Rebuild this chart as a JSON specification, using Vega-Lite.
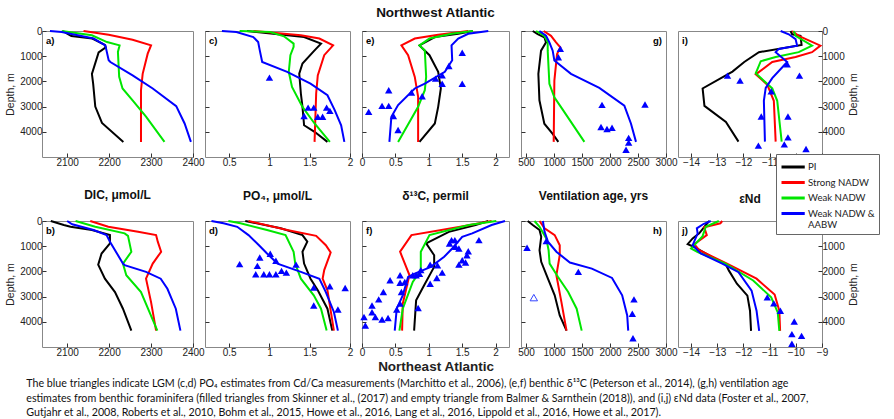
{
"$schema": "https://vega.github.io/schema/vega-lite/v6.json",
"padding": {"left": 5, "top": 5, "right": 5, "bottom": 5},
"datasets": {
"lines": [
{"p":"a","s":"PI","d":0,"v":2090},{"p":"a","s":"PI","d":100,"v":2100},{"p":"a","s":"PI","d":200,"v":2110},{"p":"a","s":"PI","d":300,"v":2160},{"p":"a","s":"PI","d":550,"v":2190},{"p":"a","s":"PI","d":650,"v":2192},{"p":"a","s":"PI","d":850,"v":2175},{"p":"a","s":"PI","d":1700,"v":2159},{"p":"a","s":"PI","d":2100,"v":2162},{"p":"a","s":"PI","d":3000,"v":2167},{"p":"a","s":"PI","d":3650,"v":2183},{"p":"a","s":"PI","d":4400,"v":2234},
{"p":"a","s":"Strong NADW","d":0,"v":2139},{"p":"a","s":"Strong NADW","d":150,"v":2199},{"p":"a","s":"Strong NADW","d":350,"v":2256},{"p":"a","s":"Strong NADW","d":570,"v":2300},{"p":"a","s":"Strong NADW","d":900,"v":2292},{"p":"a","s":"Strong NADW","d":1700,"v":2280},{"p":"a","s":"Strong NADW","d":2350,"v":2276},{"p":"a","s":"Strong NADW","d":4400,"v":2276},
{"p":"a","s":"Weak NADW","d":0,"v":2087},{"p":"a","s":"Weak NADW","d":170,"v":2159},{"p":"a","s":"Weak NADW","d":440,"v":2195},{"p":"a","s":"Weak NADW","d":570,"v":2225},{"p":"a","s":"Weak NADW","d":830,"v":2221},{"p":"a","s":"Weak NADW","d":1820,"v":2224},{"p":"a","s":"Weak NADW","d":2280,"v":2232},{"p":"a","s":"Weak NADW","d":2750,"v":2256},{"p":"a","s":"Weak NADW","d":3400,"v":2288},{"p":"a","s":"Weak NADW","d":4400,"v":2332},
{"p":"a","s":"Weak NADW & AABW","d":0,"v":2059},{"p":"a","s":"Weak NADW & AABW","d":40,"v":2087},{"p":"a","s":"Weak NADW & AABW","d":300,"v":2163},{"p":"a","s":"Weak NADW & AABW","d":570,"v":2191},{"p":"a","s":"Weak NADW & AABW","d":1160,"v":2199},{"p":"a","s":"Weak NADW & AABW","d":1230,"v":2203},{"p":"a","s":"Weak NADW & AABW","d":1760,"v":2256},{"p":"a","s":"Weak NADW & AABW","d":2280,"v":2304},{"p":"a","s":"Weak NADW & AABW","d":2980,"v":2360},{"p":"a","s":"Weak NADW & AABW","d":3670,"v":2380},{"p":"a","s":"Weak NADW & AABW","d":4400,"v":2395},

{"p":"c","s":"PI","d":0,"v":0.72},{"p":"c","s":"PI","d":240,"v":1.43},{"p":"c","s":"PI","d":500,"v":1.64},{"p":"c","s":"PI","d":770,"v":1.56},{"p":"c","s":"PI","d":1290,"v":1.41},{"p":"c","s":"PI","d":1690,"v":1.37},{"p":"c","s":"PI","d":2480,"v":1.39},{"p":"c","s":"PI","d":3010,"v":1.41},{"p":"c","s":"PI","d":3740,"v":1.43},{"p":"c","s":"PI","d":4000,"v":1.56},{"p":"c","s":"PI","d":4400,"v":1.72},
{"p":"c","s":"Strong NADW","d":0,"v":0.80},{"p":"c","s":"Strong NADW","d":170,"v":1.39},{"p":"c","s":"Strong NADW","d":300,"v":1.62},{"p":"c","s":"Strong NADW","d":570,"v":1.79},{"p":"c","s":"Strong NADW","d":960,"v":1.68},{"p":"c","s":"Strong NADW","d":1760,"v":1.60},{"p":"c","s":"Strong NADW","d":2480,"v":1.58},{"p":"c","s":"Strong NADW","d":4400,"v":1.56},
{"p":"c","s":"Weak NADW","d":0,"v":0.63},{"p":"c","s":"Weak NADW","d":40,"v":1.01},{"p":"c","s":"Weak NADW","d":210,"v":1.18},{"p":"c","s":"Weak NADW","d":500,"v":1.30},{"p":"c","s":"Weak NADW","d":630,"v":1.30},{"p":"c","s":"Weak NADW","d":960,"v":1.26},{"p":"c","s":"Weak NADW","d":1620,"v":1.24},{"p":"c","s":"Weak NADW","d":2220,"v":1.28},{"p":"c","s":"Weak NADW","d":3010,"v":1.41},{"p":"c","s":"Weak NADW","d":3670,"v":1.56},{"p":"c","s":"Weak NADW","d":4400,"v":1.75},
{"p":"c","s":"Weak NADW & AABW","d":0,"v":0.41},{"p":"c","s":"Weak NADW & AABW","d":40,"v":0.59},{"p":"c","s":"Weak NADW & AABW","d":240,"v":0.80},{"p":"c","s":"Weak NADW & AABW","d":440,"v":0.86},{"p":"c","s":"Weak NADW & AABW","d":770,"v":0.88},{"p":"c","s":"Weak NADW & AABW","d":1230,"v":0.91},{"p":"c","s":"Weak NADW & AABW","d":1620,"v":1.22},{"p":"c","s":"Weak NADW & AABW","d":2090,"v":1.51},{"p":"c","s":"Weak NADW & AABW","d":2550,"v":1.72},{"p":"c","s":"Weak NADW & AABW","d":3140,"v":1.81},{"p":"c","s":"Weak NADW & AABW","d":3740,"v":1.89},{"p":"c","s":"Weak NADW & AABW","d":4400,"v":1.93},

{"p":"e","s":"PI","d":0,"v":1.66},{"p":"e","s":"PI","d":110,"v":1.44},{"p":"e","s":"PI","d":240,"v":1.09},{"p":"e","s":"PI","d":570,"v":0.86},{"p":"e","s":"PI","d":960,"v":1.01},{"p":"e","s":"PI","d":1620,"v":1.14},{"p":"e","s":"PI","d":2280,"v":1.18},{"p":"e","s":"PI","d":3010,"v":1.14},{"p":"e","s":"PI","d":3670,"v":1.09},{"p":"e","s":"PI","d":4400,"v":0.86},
{"p":"e","s":"Strong NADW","d":0,"v":1.59},{"p":"e","s":"Strong NADW","d":150,"v":1.14},{"p":"e","s":"Strong NADW","d":300,"v":0.79},{"p":"e","s":"Strong NADW","d":570,"v":0.59},{"p":"e","s":"Strong NADW","d":960,"v":0.69},{"p":"e","s":"Strong NADW","d":1820,"v":0.79},{"p":"e","s":"Strong NADW","d":2610,"v":0.84},{"p":"e","s":"Strong NADW","d":4400,"v":0.84},
{"p":"e","s":"Weak NADW","d":0,"v":1.66},{"p":"e","s":"Weak NADW","d":110,"v":1.34},{"p":"e","s":"Weak NADW","d":300,"v":1.01},{"p":"e","s":"Weak NADW","d":570,"v":0.86},{"p":"e","s":"Weak NADW","d":770,"v":0.94},{"p":"e","s":"Weak NADW","d":1820,"v":0.96},{"p":"e","s":"Weak NADW","d":2350,"v":0.94},{"p":"e","s":"Weak NADW","d":3010,"v":0.84},{"p":"e","s":"Weak NADW","d":4400,"v":0.54},
{"p":"e","s":"Weak NADW & AABW","d":0,"v":1.89},{"p":"e","s":"Weak NADW & AABW","d":110,"v":1.59},{"p":"e","s":"Weak NADW & AABW","d":300,"v":1.44},{"p":"e","s":"Weak NADW & AABW","d":570,"v":1.34},{"p":"e","s":"Weak NADW & AABW","d":1160,"v":1.35},{"p":"e","s":"Weak NADW & AABW","d":1620,"v":1.24},{"p":"e","s":"Weak NADW & AABW","d":2090,"v":0.94},{"p":"e","s":"Weak NADW & AABW","d":2280,"v":0.79},{"p":"e","s":"Weak NADW & AABW","d":2940,"v":0.54},{"p":"e","s":"Weak NADW & AABW","d":3400,"v":0.44},{"p":"e","s":"Weak NADW & AABW","d":4400,"v":0.41},

{"p":"g","s":"PI","d":0,"v":619},{"p":"g","s":"PI","d":120,"v":708},{"p":"g","s":"PI","d":250,"v":827},{"p":"g","s":"PI","d":450,"v":857},{"p":"g","s":"PI","d":780,"v":768},{"p":"g","s":"PI","d":1700,"v":720},{"p":"g","s":"PI","d":2750,"v":739},{"p":"g","s":"PI","d":3680,"v":827},{"p":"g","s":"PI","d":4080,"v":976},{"p":"g","s":"PI","d":4400,"v":1077},
{"p":"g","s":"Strong NADW","d":0,"v":815},{"p":"g","s":"Strong NADW","d":190,"v":946},{"p":"g","s":"Strong NADW","d":450,"v":1036},{"p":"g","s":"Strong NADW","d":650,"v":1113},{"p":"g","s":"Strong NADW","d":910,"v":1054},{"p":"g","s":"Strong NADW","d":1970,"v":1006},{"p":"g","s":"Strong NADW","d":4400,"v":994},
{"p":"g","s":"Weak NADW","d":0,"v":679},{"p":"g","s":"Weak NADW","d":190,"v":827},{"p":"g","s":"Weak NADW","d":450,"v":887},{"p":"g","s":"Weak NADW","d":780,"v":887},{"p":"g","s":"Weak NADW","d":2100,"v":917},{"p":"g","s":"Weak NADW","d":2630,"v":1006},{"p":"g","s":"Weak NADW","d":3020,"v":1125},{"p":"g","s":"Weak NADW","d":4400,"v":1542},
{"p":"g","s":"Weak NADW & AABW","d":0,"v":738},{"p":"g","s":"Weak NADW & AABW","d":190,"v":857},{"p":"g","s":"Weak NADW & AABW","d":450,"v":917},{"p":"g","s":"Weak NADW & AABW","d":780,"v":976},{"p":"g","s":"Weak NADW & AABW","d":1170,"v":1006},{"p":"g","s":"Weak NADW & AABW","d":1700,"v":1303},{"p":"g","s":"Weak NADW & AABW","d":2260,"v":1809},{"p":"g","s":"Weak NADW & AABW","d":2960,"v":2256},{"p":"g","s":"Weak NADW & AABW","d":3680,"v":2375},{"p":"g","s":"Weak NADW & AABW","d":4400,"v":2464},

{"p":"i","s":"PI","d":0,"v":-10.20},{"p":"i","s":"PI","d":130,"v":-10.14},{"p":"i","s":"PI","d":190,"v":-9.82},{"p":"i","s":"PI","d":555,"v":-9.78},{"p":"i","s":"PI","d":840,"v":-11.41},{"p":"i","s":"PI","d":1230,"v":-11.97},{"p":"i","s":"PI","d":1610,"v":-12.42},{"p":"i","s":"PI","d":2280,"v":-13.56},{"p":"i","s":"PI","d":2970,"v":-13.49},{"p":"i","s":"PI","d":3610,"v":-12.67},{"p":"i","s":"PI","d":4390,"v":-12.19},
{"p":"i","s":"Strong NADW","d":0,"v":-10.14},{"p":"i","s":"Strong NADW","d":190,"v":-9.89},{"p":"i","s":"Strong NADW","d":580,"v":-9.06},{"p":"i","s":"Strong NADW","d":840,"v":-9.38},{"p":"i","s":"Strong NADW","d":1030,"v":-10.01},{"p":"i","s":"Strong NADW","d":1230,"v":-10.90},{"p":"i","s":"Strong NADW","d":1720,"v":-11.53},{"p":"i","s":"Strong NADW","d":2130,"v":-11.09},{"p":"i","s":"Strong NADW","d":2770,"v":-10.84},{"p":"i","s":"Strong NADW","d":4390,"v":-10.77},
{"p":"i","s":"Weak NADW","d":0,"v":-10.08},{"p":"i","s":"Weak NADW","d":190,"v":-10.01},{"p":"i","s":"Weak NADW","d":580,"v":-9.38},{"p":"i","s":"Weak NADW","d":840,"v":-9.89},{"p":"i","s":"Weak NADW","d":1030,"v":-10.77},{"p":"i","s":"Weak NADW","d":1200,"v":-11.34},{"p":"i","s":"Weak NADW","d":1680,"v":-11.53},{"p":"i","s":"Weak NADW","d":2280,"v":-10.90},{"p":"i","s":"Weak NADW","d":2770,"v":-10.71},{"p":"i","s":"Weak NADW","d":4390,"v":-10.54},
{"p":"i","s":"Weak NADW & AABW","d":0,"v":-10.58},{"p":"i","s":"Weak NADW & AABW","d":130,"v":-10.27},{"p":"i","s":"Weak NADW & AABW","d":320,"v":-10.01},{"p":"i","s":"Weak NADW & AABW","d":580,"v":-9.95},{"p":"i","s":"Weak NADW & AABW","d":710,"v":-10.65},{"p":"i","s":"Weak NADW & AABW","d":840,"v":-10.77},{"p":"i","s":"Weak NADW & AABW","d":1230,"v":-10.33},{"p":"i","s":"Weak NADW & AABW","d":1870,"v":-10.90},{"p":"i","s":"Weak NADW & AABW","d":2260,"v":-11.15},{"p":"i","s":"Weak NADW & AABW","d":2770,"v":-11.22},{"p":"i","s":"Weak NADW & AABW","d":4390,"v":-11.18},

{"p":"b","s":"PI","d":0,"v":2061},{"p":"b","s":"PI","d":160,"v":2092},{"p":"b","s":"PI","d":230,"v":2108},{"p":"b","s":"PI","d":360,"v":2159},{"p":"b","s":"PI","d":560,"v":2202},{"p":"b","s":"PI","d":890,"v":2202},{"p":"b","s":"PI","d":1290,"v":2182},{"p":"b","s":"PI","d":1730,"v":2174},{"p":"b","s":"PI","d":2290,"v":2190},{"p":"b","s":"PI","d":2820,"v":2214},{"p":"b","s":"PI","d":3480,"v":2233},{"p":"b","s":"PI","d":4350,"v":2253},
{"p":"b","s":"Strong NADW","d":0,"v":2155},{"p":"b","s":"Strong NADW","d":230,"v":2198},{"p":"b","s":"Strong NADW","d":430,"v":2269},{"p":"b","s":"Strong NADW","d":560,"v":2312},{"p":"b","s":"Strong NADW","d":820,"v":2316},{"p":"b","s":"Strong NADW","d":1220,"v":2324},{"p":"b","s":"Strong NADW","d":1690,"v":2304},{"p":"b","s":"Strong NADW","d":2290,"v":2288},{"p":"b","s":"Strong NADW","d":3220,"v":2300},{"p":"b","s":"Strong NADW","d":4350,"v":2312},
{"p":"b","s":"Weak NADW","d":0,"v":2120},{"p":"b","s":"Weak NADW","d":230,"v":2167},{"p":"b","s":"Weak NADW","d":490,"v":2237},{"p":"b","s":"Weak NADW","d":590,"v":2245},{"p":"b","s":"Weak NADW","d":1220,"v":2253},{"p":"b","s":"Weak NADW","d":1690,"v":2233},{"p":"b","s":"Weak NADW","d":2150,"v":2241},{"p":"b","s":"Weak NADW","d":2820,"v":2276},{"p":"b","s":"Weak NADW","d":4350,"v":2315},
{"p":"b","s":"Weak NADW & AABW","d":0,"v":2100},{"p":"b","s":"Weak NADW & AABW","d":130,"v":2112},{"p":"b","s":"Weak NADW & AABW","d":360,"v":2163},{"p":"b","s":"Weak NADW & AABW","d":560,"v":2194},{"p":"b","s":"Weak NADW & AABW","d":820,"v":2202},{"p":"b","s":"Weak NADW & AABW","d":1690,"v":2233},{"p":"b","s":"Weak NADW & AABW","d":1750,"v":2237},{"p":"b","s":"Weak NADW & AABW","d":2020,"v":2288},{"p":"b","s":"Weak NADW & AABW","d":2290,"v":2323},{"p":"b","s":"Weak NADW & AABW","d":2690,"v":2339},{"p":"b","s":"Weak NADW & AABW","d":3480,"v":2359},{"p":"b","s":"Weak NADW & AABW","d":4350,"v":2370},

{"p":"d","s":"PI","d":0,"v":0.70},{"p":"d","s":"PI","d":290,"v":1.14},{"p":"d","s":"PI","d":560,"v":1.41},{"p":"d","s":"PI","d":820,"v":1.47},{"p":"d","s":"PI","d":1220,"v":1.41},{"p":"d","s":"PI","d":1690,"v":1.43},{"p":"d","s":"PI","d":2290,"v":1.51},{"p":"d","s":"PI","d":2750,"v":1.60},{"p":"d","s":"PI","d":3480,"v":1.72},{"p":"d","s":"PI","d":4350,"v":1.78},
{"p":"d","s":"Strong NADW","d":0,"v":0.74},{"p":"d","s":"Strong NADW","d":360,"v":1.22},{"p":"d","s":"Strong NADW","d":590,"v":1.58},{"p":"d","s":"Strong NADW","d":960,"v":1.70},{"p":"d","s":"Strong NADW","d":1250,"v":1.76},{"p":"d","s":"Strong NADW","d":1950,"v":1.68},{"p":"d","s":"Strong NADW","d":2290,"v":1.66},{"p":"d","s":"Strong NADW","d":2750,"v":1.72},{"p":"d","s":"Strong NADW","d":4350,"v":1.80},
{"p":"d","s":"Weak NADW","d":0,"v":0.49},{"p":"d","s":"Weak NADW","d":90,"v":0.64},{"p":"d","s":"Weak NADW","d":360,"v":0.97},{"p":"d","s":"Weak NADW","d":560,"v":1.20},{"p":"d","s":"Weak NADW","d":1220,"v":1.30},{"p":"d","s":"Weak NADW","d":1690,"v":1.32},{"p":"d","s":"Weak NADW","d":2290,"v":1.39},{"p":"d","s":"Weak NADW","d":2950,"v":1.55},{"p":"d","s":"Weak NADW","d":3480,"v":1.64},{"p":"d","s":"Weak NADW","d":4350,"v":1.71},
{"p":"d","s":"Weak NADW & AABW","d":0,"v":0.28},{"p":"d","s":"Weak NADW & AABW","d":90,"v":0.43},{"p":"d","s":"Weak NADW & AABW","d":230,"v":0.60},{"p":"d","s":"Weak NADW & AABW","d":560,"v":0.74},{"p":"d","s":"Weak NADW & AABW","d":960,"v":0.87},{"p":"d","s":"Weak NADW & AABW","d":1290,"v":0.97},{"p":"d","s":"Weak NADW & AABW","d":1690,"v":1.10},{"p":"d","s":"Weak NADW & AABW","d":2020,"v":1.39},{"p":"d","s":"Weak NADW & AABW","d":2290,"v":1.62},{"p":"d","s":"Weak NADW & AABW","d":2820,"v":1.70},{"p":"d","s":"Weak NADW & AABW","d":3610,"v":1.80},{"p":"d","s":"Weak NADW & AABW","d":4350,"v":1.85},

{"p":"f","s":"PI","d":0,"v":1.89},{"p":"f","s":"PI","d":160,"v":1.70},{"p":"f","s":"PI","d":430,"v":1.30},{"p":"f","s":"PI","d":890,"v":0.96},{"p":"f","s":"PI","d":1360,"v":1.08},{"p":"f","s":"PI","d":1820,"v":1.08},{"p":"f","s":"PI","d":2550,"v":0.93},{"p":"f","s":"PI","d":3150,"v":0.81},{"p":"f","s":"PI","d":4350,"v":0.78},
{"p":"f","s":"Strong NADW","d":0,"v":1.94},{"p":"f","s":"Strong NADW","d":230,"v":1.47},{"p":"f","s":"Strong NADW","d":560,"v":0.74},{"p":"f","s":"Strong NADW","d":1220,"v":0.57},{"p":"f","s":"Strong NADW","d":2150,"v":0.71},{"p":"f","s":"Strong NADW","d":3280,"v":0.61},{"p":"f","s":"Strong NADW","d":4350,"v":0.60},
{"p":"f","s":"Weak NADW","d":0,"v":2.01},{"p":"f","s":"Weak NADW","d":160,"v":1.60},{"p":"f","s":"Weak NADW","d":560,"v":1.01},{"p":"f","s":"Weak NADW","d":1220,"v":0.88},{"p":"f","s":"Weak NADW","d":1950,"v":0.88},{"p":"f","s":"Weak NADW","d":2420,"v":0.76},{"p":"f","s":"Weak NADW","d":3480,"v":0.61},{"p":"f","s":"Weak NADW","d":4350,"v":0.56},
{"p":"f","s":"Weak NADW & AABW","d":0,"v":2.14},{"p":"f","s":"Weak NADW & AABW","d":160,"v":1.94},{"p":"f","s":"Weak NADW & AABW","d":490,"v":1.65},{"p":"f","s":"Weak NADW & AABW","d":630,"v":1.50},{"p":"f","s":"Weak NADW & AABW","d":1090,"v":1.35},{"p":"f","s":"Weak NADW & AABW","d":1420,"v":1.23},{"p":"f","s":"Weak NADW & AABW","d":1820,"v":1.03},{"p":"f","s":"Weak NADW & AABW","d":2090,"v":0.79},{"p":"f","s":"Weak NADW & AABW","d":2220,"v":0.69},{"p":"f","s":"Weak NADW & AABW","d":2950,"v":0.61},{"p":"f","s":"Weak NADW & AABW","d":3480,"v":0.52},{"p":"f","s":"Weak NADW & AABW","d":4350,"v":0.49},

{"p":"h","s":"PI","d":0,"v":530},{"p":"h","s":"PI","d":160,"v":620},{"p":"h","s":"PI","d":360,"v":741},{"p":"h","s":"PI","d":630,"v":771},{"p":"h","s":"PI","d":1160,"v":741},{"p":"h","s":"PI","d":1620,"v":771},{"p":"h","s":"PI","d":2290,"v":891},{"p":"h","s":"PI","d":2950,"v":1012},{"p":"h","s":"PI","d":3750,"v":1102},{"p":"h","s":"PI","d":4350,"v":1223},
{"p":"h","s":"Strong NADW","d":0,"v":741},{"p":"h","s":"Strong NADW","d":290,"v":831},{"p":"h","s":"Strong NADW","d":560,"v":1012},{"p":"h","s":"Strong NADW","d":960,"v":1102},{"p":"h","s":"Strong NADW","d":1360,"v":1102},{"p":"h","s":"Strong NADW","d":2150,"v":1042},{"p":"h","s":"Strong NADW","d":3220,"v":1132},{"p":"h","s":"Strong NADW","d":4350,"v":1223},
{"p":"h","s":"Weak NADW","d":0,"v":651},{"p":"h","s":"Weak NADW","d":230,"v":741},{"p":"h","s":"Weak NADW","d":690,"v":861},{"p":"h","s":"Weak NADW","d":1160,"v":903},{"p":"h","s":"Weak NADW","d":1690,"v":921},{"p":"h","s":"Weak NADW","d":2220,"v":1072},{"p":"h","s":"Weak NADW","d":2820,"v":1253},{"p":"h","s":"Weak NADW","d":3480,"v":1404},{"p":"h","s":"Weak NADW","d":4350,"v":1494},
{"p":"h","s":"Weak NADW & AABW","d":0,"v":801},{"p":"h","s":"Weak NADW & AABW","d":430,"v":831},{"p":"h","s":"Weak NADW & AABW","d":820,"v":891},{"p":"h","s":"Weak NADW & AABW","d":1220,"v":1042},{"p":"h","s":"Weak NADW & AABW","d":1650,"v":1283},{"p":"h","s":"Weak NADW & AABW","d":1890,"v":1675},{"p":"h","s":"Weak NADW & AABW","d":2260,"v":2036},{"p":"h","s":"Weak NADW & AABW","d":2950,"v":2217},{"p":"h","s":"Weak NADW & AABW","d":3750,"v":2307},{"p":"h","s":"Weak NADW & AABW","d":4350,"v":2325},

{"p":"j","s":"PI","d":0,"v":-13.31},{"p":"j","s":"PI","d":160,"v":-13.44},{"p":"j","s":"PI","d":490,"v":-13.69},{"p":"j","s":"PI","d":690,"v":-13.94},{"p":"j","s":"PI","d":920,"v":-14.13},{"p":"j","s":"PI","d":1030,"v":-13.88},{"p":"j","s":"PI","d":1400,"v":-13.25},{"p":"j","s":"PI","d":1690,"v":-12.69},{"p":"j","s":"PI","d":1960,"v":-12.56},{"p":"j","s":"PI","d":2490,"v":-12.25},{"p":"j","s":"PI","d":2960,"v":-11.85},{"p":"j","s":"PI","d":3560,"v":-11.75},{"p":"j","s":"PI","d":4360,"v":-11.71},
{"p":"j","s":"Strong NADW","d":0,"v":-12.81},{"p":"j","s":"Strong NADW","d":90,"v":-12.88},{"p":"j","s":"Strong NADW","d":250,"v":-13.50},{"p":"j","s":"Strong NADW","d":560,"v":-13.40},{"p":"j","s":"Strong NADW","d":920,"v":-13.88},{"p":"j","s":"Strong NADW","d":1160,"v":-13.69},{"p":"j","s":"Strong NADW","d":1690,"v":-12.63},{"p":"j","s":"Strong NADW","d":2290,"v":-11.50},{"p":"j","s":"Strong NADW","d":2920,"v":-10.81},{"p":"j","s":"Strong NADW","d":3560,"v":-10.63},{"p":"j","s":"Strong NADW","d":4360,"v":-10.60},
{"p":"j","s":"Weak NADW","d":0,"v":-12.94},{"p":"j","s":"Weak NADW","d":230,"v":-13.44},{"p":"j","s":"Weak NADW","d":600,"v":-13.56},{"p":"j","s":"Weak NADW","d":1090,"v":-14.00},{"p":"j","s":"Weak NADW","d":1230,"v":-13.75},{"p":"j","s":"Weak NADW","d":1690,"v":-12.69},{"p":"j","s":"Weak NADW","d":2360,"v":-11.63},{"p":"j","s":"Weak NADW","d":3030,"v":-10.94},{"p":"j","s":"Weak NADW","d":3630,"v":-10.69},{"p":"j","s":"Weak NADW","d":4360,"v":-10.63},
{"p":"j","s":"Weak NADW & AABW","d":0,"v":-13.25},{"p":"j","s":"Weak NADW & AABW","d":120,"v":-13.53},{"p":"j","s":"Weak NADW & AABW","d":290,"v":-13.78},{"p":"j","s":"Weak NADW & AABW","d":490,"v":-13.75},{"p":"j","s":"Weak NADW & AABW","d":960,"v":-13.94},{"p":"j","s":"Weak NADW & AABW","d":1290,"v":-13.63},{"p":"j","s":"Weak NADW & AABW","d":1690,"v":-12.81},{"p":"j","s":"Weak NADW & AABW","d":2030,"v":-12.19},{"p":"j","s":"Weak NADW & AABW","d":2760,"v":-11.69},{"p":"j","s":"Weak NADW & AABW","d":3560,"v":-11.50},{"p":"j","s":"Weak NADW & AABW","d":4360,"v":-11.40}
],
"tri": [
{"p":"c","f":1,"v":1.00,"d":1850},{"p":"c","f":1,"v":1.48,"d":3040},{"p":"c","f":1,"v":1.55,"d":3040},{"p":"c","f":1,"v":1.71,"d":3040},{"p":"c","f":1,"v":1.75,"d":3170},{"p":"c","f":1,"v":1.43,"d":3370},{"p":"c","f":1,"v":1.60,"d":3400},{"p":"c","f":1,"v":1.66,"d":3400},
{"p":"e","f":1,"v":1.50,"d":860},{"p":"e","f":1,"v":1.30,"d":1390},{"p":"e","f":1,"v":1.10,"d":1890},{"p":"e","f":1,"v":1.20,"d":1760},{"p":"e","f":1,"v":1.20,"d":2090},{"p":"e","f":1,"v":1.50,"d":2090},{"p":"e","f":1,"v":0.40,"d":2350},{"p":"e","f":1,"v":0.74,"d":2440},{"p":"e","f":1,"v":0.90,"d":2590},{"p":"e","f":1,"v":0.30,"d":2970},{"p":"e","f":1,"v":0.40,"d":2970},{"p":"e","f":1,"v":0.10,"d":3210},{"p":"e","f":1,"v":0.47,"d":3370},{"p":"e","f":1,"v":0.54,"d":3930},
{"p":"g","f":1,"v":1113,"d":710},{"p":"g","f":1,"v":1077,"d":1040},{"p":"g","f":1,"v":1857,"d":2930},{"p":"g","f":1,"v":2625,"d":2920},{"p":"g","f":1,"v":1839,"d":3810},{"p":"g","f":1,"v":1946,"d":3890},{"p":"g","f":1,"v":2036,"d":3840},{"p":"g","f":1,"v":2333,"d":4240},{"p":"g","f":1,"v":2333,"d":4430},{"p":"g","f":1,"v":2286,"d":4710},
{"p":"i","f":1,"v":-12.61,"d":1770},{"p":"i","f":1,"v":-12.13,"d":1970},{"p":"i","f":1,"v":-9.86,"d":1770},{"p":"i","f":1,"v":-10.33,"d":1320},{"p":"i","f":1,"v":-10.94,"d":2390},{"p":"i","f":1,"v":-11.32,"d":3390},{"p":"i","f":1,"v":-10.30,"d":3390},{"p":"i","f":1,"v":-10.30,"d":4220},{"p":"i","f":1,"v":-11.43,"d":4550},{"p":"i","f":1,"v":-10.44,"d":4500},{"p":"i","f":1,"v":-9.61,"d":4680},
{"p":"d","f":1,"v":0.63,"d":1710},{"p":"d","f":1,"v":0.88,"d":1450},{"p":"d","f":1,"v":1.01,"d":1300},{"p":"d","f":1,"v":0.85,"d":1780},{"p":"d","f":1,"v":0.83,"d":2110},{"p":"d","f":1,"v":0.93,"d":2110},{"p":"d","f":1,"v":1.00,"d":2110},{"p":"d","f":1,"v":1.08,"d":2110},{"p":"d","f":1,"v":1.15,"d":1980},{"p":"d","f":1,"v":1.21,"d":2050},{"p":"d","f":1,"v":1.33,"d":1730},{"p":"d","f":1,"v":1.08,"d":1580},{"p":"d","f":1,"v":1.55,"d":2640},{"p":"d","f":1,"v":1.75,"d":2590},{"p":"d","f":1,"v":1.94,"d":2660},{"p":"d","f":1,"v":1.55,"d":3350},{"p":"d","f":1,"v":1.85,"d":3510},
{"p":"f","f":1,"v":1.34,"d":760},{"p":"f","f":1,"v":1.39,"d":760},{"p":"f","f":1,"v":1.31,"d":890},{"p":"f","f":1,"v":1.40,"d":1020},{"p":"f","f":1,"v":1.45,"d":1090},{"p":"f","f":1,"v":1.75,"d":760},{"p":"f","f":1,"v":1.59,"d":1200},{"p":"f","f":1,"v":1.57,"d":1360},{"p":"f","f":1,"v":1.50,"d":1560},{"p":"f","f":1,"v":1.55,"d":1650},{"p":"f","f":1,"v":1.45,"d":1730},{"p":"f","f":1,"v":1.02,"d":1730},{"p":"f","f":1,"v":1.13,"d":1760},{"p":"f","f":1,"v":1.20,"d":2050},{"p":"f","f":1,"v":1.12,"d":2260},{"p":"f","f":1,"v":1.02,"d":2490},{"p":"f","f":1,"v":0.88,"d":1950},{"p":"f","f":1,"v":0.86,"d":2090},{"p":"f","f":1,"v":0.81,"d":2150},{"p":"f","f":1,"v":0.76,"d":2150},{"p":"f","f":1,"v":0.57,"d":2150},{"p":"f","f":1,"v":0.64,"d":2420},{"p":"f","f":1,"v":0.57,"d":2450},{"p":"f","f":1,"v":0.42,"d":2350},{"p":"f","f":1,"v":0.32,"d":2820},{"p":"f","f":1,"v":0.59,"d":2820},{"p":"f","f":1,"v":0.25,"d":3110},{"p":"f","f":1,"v":0.57,"d":3280},{"p":"f","f":1,"v":0.15,"d":3350},{"p":"f","f":1,"v":0.52,"d":3510},{"p":"f","f":1,"v":0.84,"d":3450},{"p":"f","f":1,"v":0.15,"d":3620},{"p":"f","f":1,"v":0.20,"d":3810},{"p":"f","f":1,"v":0.30,"d":3910},{"p":"f","f":1,"v":0.39,"d":3850},{"p":"f","f":1,"v":0.03,"d":3810},{"p":"f","f":1,"v":0.05,"d":4150},
{"p":"h","f":1,"v":518,"d":1060},{"p":"h","f":1,"v":861,"d":800},{"p":"h","f":1,"v":1434,"d":2020},{"p":"h","f":1,"v":2428,"d":3110},{"p":"h","f":1,"v":2398,"d":3680},{"p":"h","f":1,"v":2410,"d":4650},{"p":"h","f":0,"v":639,"d":3040},
{"p":"j","f":1,"v":-11.09,"d":3030},{"p":"j","f":1,"v":-10.84,"d":3270},{"p":"j","f":1,"v":-10.59,"d":3560},{"p":"j","f":1,"v":-10.06,"d":3990},{"p":"j","f":1,"v":-10.15,"d":4490},{"p":"j","f":1,"v":-9.78,"d":4560},{"p":"j","f":1,"v":-10.15,"d":4870}
]
},
"title": {
"text": ["The blue triangles indicate LGM (c,d) PO₄ estimates from Cd/Ca measurements (Marchitto et al., 2006), (e,f) benthic δ¹³C (Peterson et al., 2014), (g,h) ventilation age",
"estimates from benthic foraminifera (filled triangles from Skinner et al., (2017) and empty triangle from Balmer & Sarnthein (2018)), and (i,j) εNd data (Foster et al., 2007,",
"Gutjahr et al., 2008, Roberts et al., 2010, Bohm et al., 2015, Howe et al., 2016, Lang et al., 2016, Lippold et al., 2016, Howe et al., 2017)."],
"orient": "bottom", "anchor": "start", "frame": "bounds", "font": "Lato", "fontSize": 10.7, "fontWeight": "normal", "lineHeight": 14.5, "offset": 6, "color": "#111", "dx": 21
},
"columns": 5,
"spacing": {"row": 64, "column": 12},
"bounds": "flush",
"resolve": {"scale": {"color": "independent"}, "legend": {"color": "independent"}},
"concat": [
{"width": 151, "height": 126, "layer": [
 {"data": {"name": "lines"}, "transform": [{"filter": "datum.p=='a'"}], "mark": {"type": "line", "strokeWidth": 2},
  "encoding": {
   "x": {"field": "v", "type": "quantitative", "scale": {"domain": [2040, 2400], "nice": false, "zero": false}, "axis": {"values": [2100, 2200, 2300, 2400], "tickCount": 10, "format": "d", "title": null}},
   "y": {"field": "d", "type": "quantitative", "scale": {"domain": [0, 5000], "reverse": true, "nice": false}, "axis": {"values": [0, 1000, 2000, 3000, 4000], "tickCount": 10, "format": "d", "title": "Depth, m"}},
   "color": {"field": "s", "type": "nominal", "scale": {"domain": ["PI", "Strong NADW", "Weak NADW", "Weak NADW & AABW"], "range": ["#000000", "#ff0000", "#00e600", "#0000ff"]}, "legend": null},
   "order": {"field": "d", "type": "quantitative"}}},
 {"data": {"values": [{}]}, "mark": {"type": "text", "align": "left", "baseline": "top", "dx": 4, "dy": 5, "fontSize": 9.5, "fontWeight": "bold", "font": "Liberation Sans"},
  "encoding": {"x": {"datum": 2040, "type": "quantitative"}, "y": {"datum": 0, "type": "quantitative"}, "text": {"value": "a)"}}}
]},
{"width": 145, "height": 126, "layer": [
 {"data": {"name": "lines"}, "transform": [{"filter": "datum.p=='c'"}], "mark": {"type": "line", "strokeWidth": 2},
  "encoding": {
   "x": {"field": "v", "type": "quantitative", "scale": {"domain": [0.2, 2], "nice": false, "zero": false}, "axis": {"values": [0.5, 1, 1.5, 2], "tickCount": 10, "format": "~g", "title": null}},
   "y": {"field": "d", "type": "quantitative", "scale": {"domain": [0, 5000], "reverse": true, "nice": false}, "axis": {"values": [0, 1000, 2000, 3000, 4000], "tickCount": 10, "labels": false, "title": null}},
   "color": {"field": "s", "type": "nominal", "scale": {"domain": ["PI", "Strong NADW", "Weak NADW", "Weak NADW & AABW"], "range": ["#000000", "#ff0000", "#00e600", "#0000ff"]}, "legend": null},
   "order": {"field": "d", "type": "quantitative"}}},
 {"data": {"name": "tri"}, "transform": [{"filter": "datum.p=='c'"}], "mark": {"type": "point", "shape": "triangle-up", "filled": true, "color": "#0000ff", "size": 55, "opacity": 1},
  "encoding": {"x": {"field": "v", "type": "quantitative"}, "y": {"field": "d", "type": "quantitative"}}},
 {"data": {"values": [{}]}, "mark": {"type": "text", "align": "left", "baseline": "top", "dx": 4, "dy": 5, "fontSize": 9.5, "fontWeight": "bold", "font": "Liberation Sans"},
  "encoding": {"x": {"datum": 0.2, "type": "quantitative"}, "y": {"datum": 0, "type": "quantitative"}, "text": {"value": "c)"}}}
]},
{"width": 147, "height": 126, "title": {"text": "Northwest Atlantic", "fontSize": 13.5, "offset": 8},
 "layer": [
 {"data": {"name": "lines"}, "transform": [{"filter": "datum.p=='e'"}], "mark": {"type": "line", "strokeWidth": 2},
  "encoding": {
   "x": {"field": "v", "type": "quantitative", "scale": {"domain": [0, 2.2], "nice": false, "zero": false}, "axis": {"values": [0, 0.5, 1, 1.5, 2], "tickCount": 10, "format": "~g", "title": null}},
   "y": {"field": "d", "type": "quantitative", "scale": {"domain": [0, 5000], "reverse": true, "nice": false}, "axis": {"values": [0, 1000, 2000, 3000, 4000], "tickCount": 10, "labels": false, "title": null}},
   "color": {"field": "s", "type": "nominal", "scale": {"domain": ["PI", "Strong NADW", "Weak NADW", "Weak NADW & AABW"], "range": ["#000000", "#ff0000", "#00e600", "#0000ff"]}, "legend": null},
   "order": {"field": "d", "type": "quantitative"}}},
 {"data": {"name": "tri"}, "transform": [{"filter": "datum.p=='e'"}], "mark": {"type": "point", "shape": "triangle-up", "filled": true, "color": "#0000ff", "size": 55, "opacity": 1},
  "encoding": {"x": {"field": "v", "type": "quantitative"}, "y": {"field": "d", "type": "quantitative"}}},
 {"data": {"values": [{}]}, "mark": {"type": "text", "align": "left", "baseline": "top", "dx": 4, "dy": 5, "fontSize": 9.5, "fontWeight": "bold", "font": "Liberation Sans"},
  "encoding": {"x": {"datum": 0, "type": "quantitative"}, "y": {"datum": 0, "type": "quantitative"}, "text": {"value": "e)"}}}
]},
{"width": 145, "height": 126, "layer": [
 {"data": {"name": "lines"}, "transform": [{"filter": "datum.p=='g'"}], "mark": {"type": "line", "strokeWidth": 2},
  "encoding": {
   "x": {"field": "v", "type": "quantitative", "scale": {"domain": [410, 3000], "nice": false, "zero": false}, "axis": {"values": [500, 1000, 1500, 2000, 2500, 3000], "tickCount": 10, "format": "d", "title": null}},
   "y": {"field": "d", "type": "quantitative", "scale": {"domain": [0, 5000], "reverse": true, "nice": false}, "axis": {"values": [0, 1000, 2000, 3000, 4000], "tickCount": 10, "labels": false, "title": null}},
   "color": {"field": "s", "type": "nominal", "scale": {"domain": ["PI", "Strong NADW", "Weak NADW", "Weak NADW & AABW"], "range": ["#000000", "#ff0000", "#00e600", "#0000ff"]}, "legend": null},
   "order": {"field": "d", "type": "quantitative"}}},
 {"data": {"name": "tri"}, "transform": [{"filter": "datum.p=='g'"}], "mark": {"type": "point", "shape": "triangle-up", "filled": true, "color": "#0000ff", "size": 55, "opacity": 1},
  "encoding": {"x": {"field": "v", "type": "quantitative"}, "y": {"field": "d", "type": "quantitative"}}},
 {"data": {"values": [{}]}, "mark": {"type": "text", "align": "right", "baseline": "top", "dx": -4, "dy": 5, "fontSize": 9.5, "fontWeight": "bold", "font": "Liberation Sans"},
  "encoding": {"x": {"datum": 3000, "type": "quantitative"}, "y": {"datum": 0, "type": "quantitative"}, "text": {"value": "g)"}}}
]},
{"width": 144, "height": 126, "layer": [
 {"data": {"name": "lines"}, "transform": [{"filter": "datum.p=='i'"}], "mark": {"type": "line", "strokeWidth": 2},
  "encoding": {
   "x": {"field": "v", "type": "quantitative", "scale": {"domain": [-14.5, -9], "nice": false, "zero": false}, "axis": {"values": [-14, -13, -12, -11, -10, -9], "tickCount": 10, "format": "d", "title": null}},
   "y": {"field": "d", "type": "quantitative", "scale": {"domain": [0, 5000], "reverse": true, "nice": false}, "axis": {"orient": "right", "values": [0, 1000, 2000, 3000, 4000], "tickCount": 10, "format": "d", "title": "Depth, m", "titleAngle": 270, "titleBaseline": "top"}},
   "color": {"field": "s", "type": "nominal", "scale": {"domain": ["PI", "Strong NADW", "Weak NADW", "Weak NADW & AABW"], "range": ["#000000", "#ff0000", "#00e600", "#0000ff"]}, "legend": null},
   "order": {"field": "d", "type": "quantitative"}}},
 {"data": {"name": "tri"}, "transform": [{"filter": "datum.p=='i'"}], "mark": {"type": "point", "shape": "triangle-up", "filled": true, "color": "#0000ff", "size": 55, "opacity": 1},
  "encoding": {"x": {"field": "v", "type": "quantitative"}, "y": {"field": "d", "type": "quantitative"}}},
 {"data": {"values": [{}]}, "mark": {"type": "text", "align": "left", "baseline": "top", "dx": 4, "dy": 5, "fontSize": 9.5, "fontWeight": "bold", "font": "Liberation Sans"},
  "encoding": {"x": {"datum": -14.5, "type": "quantitative"}, "y": {"datum": 0, "type": "quantitative"}, "text": {"value": "i)"}}}
]},
{"width": 151, "height": 126, "title": {"text": "DIC, μmol/L"}, "layer": [
 {"data": {"name": "lines"}, "transform": [{"filter": "datum.p=='b'"}], "mark": {"type": "line", "strokeWidth": 2},
  "encoding": {
   "x": {"field": "v", "type": "quantitative", "scale": {"domain": [2040, 2400], "nice": false, "zero": false}, "axis": {"values": [2100, 2200, 2300, 2400], "tickCount": 10, "format": "d", "title": null}},
   "y": {"field": "d", "type": "quantitative", "scale": {"domain": [0, 5000], "reverse": true, "nice": false}, "axis": {"values": [0, 1000, 2000, 3000, 4000], "tickCount": 10, "format": "d", "title": "Depth, m"}},
   "color": {"field": "s", "type": "nominal", "scale": {"domain": ["PI", "Strong NADW", "Weak NADW", "Weak NADW & AABW"], "range": ["#000000", "#ff0000", "#00e600", "#0000ff"]}, "legend": null},
   "order": {"field": "d", "type": "quantitative"}}},
 {"data": {"values": [{}]}, "mark": {"type": "text", "align": "left", "baseline": "top", "dx": 4, "dy": 5, "fontSize": 9.5, "fontWeight": "bold", "font": "Liberation Sans"},
  "encoding": {"x": {"datum": 2040, "type": "quantitative"}, "y": {"datum": 0, "type": "quantitative"}, "text": {"value": "b)"}}}
]},
{"width": 145, "height": 126, "title": {"text": "PO₄, μmol/L"}, "layer": [
 {"data": {"name": "lines"}, "transform": [{"filter": "datum.p=='d'"}], "mark": {"type": "line", "strokeWidth": 2},
  "encoding": {
   "x": {"field": "v", "type": "quantitative", "scale": {"domain": [0.2, 2], "nice": false, "zero": false}, "axis": {"values": [0.5, 1, 1.5, 2], "tickCount": 10, "format": "~g", "title": null}},
   "y": {"field": "d", "type": "quantitative", "scale": {"domain": [0, 5000], "reverse": true, "nice": false}, "axis": {"values": [0, 1000, 2000, 3000, 4000], "tickCount": 10, "labels": false, "title": null}},
   "color": {"field": "s", "type": "nominal", "scale": {"domain": ["PI", "Strong NADW", "Weak NADW", "Weak NADW & AABW"], "range": ["#000000", "#ff0000", "#00e600", "#0000ff"]}, "legend": null},
   "order": {"field": "d", "type": "quantitative"}}},
 {"data": {"name": "tri"}, "transform": [{"filter": "datum.p=='d'"}], "mark": {"type": "point", "shape": "triangle-up", "filled": true, "color": "#0000ff", "size": 55, "opacity": 1},
  "encoding": {"x": {"field": "v", "type": "quantitative"}, "y": {"field": "d", "type": "quantitative"}}},
 {"data": {"values": [{}]}, "mark": {"type": "text", "align": "left", "baseline": "top", "dx": 4, "dy": 5, "fontSize": 9.5, "fontWeight": "bold", "font": "Liberation Sans"},
  "encoding": {"x": {"datum": 0.2, "type": "quantitative"}, "y": {"datum": 0, "type": "quantitative"}, "text": {"value": "d)"}}}
]},
{"width": 147, "height": 126, "title": {"text": "δ¹³C, permil"}, "layer": [
 {"data": {"name": "lines"}, "transform": [{"filter": "datum.p=='f'"}], "mark": {"type": "line", "strokeWidth": 2},
  "encoding": {
   "x": {"field": "v", "type": "quantitative", "scale": {"domain": [0, 2.2], "nice": false, "zero": false}, "axis": {"values": [0, 0.5, 1, 1.5, 2], "tickCount": 10, "format": "~g", "title": "Northeast Atlantic", "titleFontSize": 13.5, "titleFontWeight": "bold", "titlePadding": 2}},
   "y": {"field": "d", "type": "quantitative", "scale": {"domain": [0, 5000], "reverse": true, "nice": false}, "axis": {"values": [0, 1000, 2000, 3000, 4000], "tickCount": 10, "labels": false, "title": null}},
   "color": {"field": "s", "type": "nominal", "scale": {"domain": ["PI", "Strong NADW", "Weak NADW", "Weak NADW & AABW"], "range": ["#000000", "#ff0000", "#00e600", "#0000ff"]}, "legend": null},
   "order": {"field": "d", "type": "quantitative"}}},
 {"data": {"name": "tri"}, "transform": [{"filter": "datum.p=='f'"}], "mark": {"type": "point", "shape": "triangle-up", "filled": true, "color": "#0000ff", "size": 55, "opacity": 1},
  "encoding": {"x": {"field": "v", "type": "quantitative"}, "y": {"field": "d", "type": "quantitative"}}},
 {"data": {"values": [{}]}, "mark": {"type": "text", "align": "left", "baseline": "top", "dx": 4, "dy": 5, "fontSize": 9.5, "fontWeight": "bold", "font": "Liberation Sans"},
  "encoding": {"x": {"datum": 0, "type": "quantitative"}, "y": {"datum": 0, "type": "quantitative"}, "text": {"value": "f)"}}}
]},
{"width": 145, "height": 126, "title": {"text": "Ventilation age, yrs"}, "layer": [
 {"data": {"name": "lines"}, "transform": [{"filter": "datum.p=='h'"}], "mark": {"type": "line", "strokeWidth": 2},
  "encoding": {
   "x": {"field": "v", "type": "quantitative", "scale": {"domain": [410, 3000], "nice": false, "zero": false}, "axis": {"values": [500, 1000, 1500, 2000, 2500, 3000], "tickCount": 10, "format": "d", "title": null}},
   "y": {"field": "d", "type": "quantitative", "scale": {"domain": [0, 5000], "reverse": true, "nice": false}, "axis": {"values": [0, 1000, 2000, 3000, 4000], "tickCount": 10, "labels": false, "title": null}},
   "color": {"field": "s", "type": "nominal", "scale": {"domain": ["PI", "Strong NADW", "Weak NADW", "Weak NADW & AABW"], "range": ["#000000", "#ff0000", "#00e600", "#0000ff"]}, "legend": null},
   "order": {"field": "d", "type": "quantitative"}}},
 {"data": {"name": "tri"}, "transform": [{"filter": "datum.p=='h' && datum.f==1"}], "mark": {"type": "point", "shape": "triangle-up", "filled": true, "color": "#0000ff", "size": 55, "opacity": 1},
  "encoding": {"x": {"field": "v", "type": "quantitative"}, "y": {"field": "d", "type": "quantitative"}}},
 {"data": {"name": "tri"}, "transform": [{"filter": "datum.p=='h' && datum.f==0"}], "mark": {"type": "point", "shape": "triangle-up", "filled": false, "color": "#3344ff", "size": 55, "strokeWidth": 1, "opacity": 1},
  "encoding": {"x": {"field": "v", "type": "quantitative"}, "y": {"field": "d", "type": "quantitative"}}},
 {"data": {"values": [{}]}, "mark": {"type": "text", "align": "right", "baseline": "top", "dx": -4, "dy": 5, "fontSize": 9.5, "fontWeight": "bold", "font": "Liberation Sans"},
  "encoding": {"x": {"datum": 3000, "type": "quantitative"}, "y": {"datum": 0, "type": "quantitative"}, "text": {"value": "h)"}}}
]},
{"width": 144, "height": 126, "title": {"text": "εNd", "dy": 66}, "layer": [
 {"data": {"name": "lines"}, "transform": [{"filter": "datum.p=='j'"}], "mark": {"type": "line", "strokeWidth": 2},
  "encoding": {
   "x": {"field": "v", "type": "quantitative", "scale": {"domain": [-14.5, -9], "nice": false, "zero": false}, "axis": {"values": [-14, -13, -12, -11, -10, -9], "tickCount": 10, "format": "d", "title": null}},
   "y": {"field": "d", "type": "quantitative", "scale": {"domain": [0, 5000], "reverse": true, "nice": false}, "axis": {"orient": "right", "values": [0, 1000, 2000, 3000, 4000], "tickCount": 10, "format": "d", "labelExpr": "datum.value == 0 ? '' : datum.label", "title": "Depth, m", "titleAngle": 270, "titleBaseline": "top"}},
   "color": {"field": "s", "type": "nominal", "scale": {"domain": ["PI", "Strong NADW", "Weak NADW", "Weak NADW & AABW"], "range": ["#000000", "#ff0000", "#00e600", "#0000ff"]},
     "legend": {"orient": "none", "legendX": 98, "legendY": -67, "zindex": 2, "title": null, "fillColor": "white", "strokeColor": "#666", "padding": 4, "symbolType": "M-1,0H2.1", "symbolSize": 225, "symbolStrokeWidth": 3, "labelOffset": 10, "labelFont": "Lato", "labelFontSize": 9.6, "labelColor": "#222", "rowPadding": 0.5, "labelExpr": "datum.label == 'Weak NADW & AABW' ? ['Weak NADW &', 'AABW'] : datum.label"}},
   "order": {"field": "d", "type": "quantitative"}}},
 {"data": {"name": "tri"}, "transform": [{"filter": "datum.p=='j'"}], "mark": {"type": "point", "shape": "triangle-up", "filled": true, "color": "#0000ff", "size": 55, "opacity": 1},
  "encoding": {"x": {"field": "v", "type": "quantitative"}, "y": {"field": "d", "type": "quantitative"}}},
 {"data": {"values": [{}]}, "mark": {"type": "text", "align": "left", "baseline": "top", "dx": 4, "dy": 5, "fontSize": 9.5, "fontWeight": "bold", "font": "Liberation Sans"},
  "encoding": {"x": {"datum": -14.5, "type": "quantitative"}, "y": {"datum": 0, "type": "quantitative"}, "text": {"value": "j)"}}}
]}
],
"config": {
 "view": {"stroke": "#888", "strokeWidth": 1},
 "axis": {"grid": false, "domain": false, "tickSize": -4, "tickColor": "#333", "labelFont": "Liberation Sans", "labelFontSize": 10, "labelColor": "#222", "titleFont": "Liberation Sans", "titleFontSize": 10.5, "titleFontWeight": "normal", "titleColor": "#222", "labelPadding": 4, "labelFlush": false, "labelOverlap": false},
 "title": {"font": "Liberation Sans", "fontSize": 12, "fontWeight": "bold", "color": "#111", "offset": 14}
}
}
